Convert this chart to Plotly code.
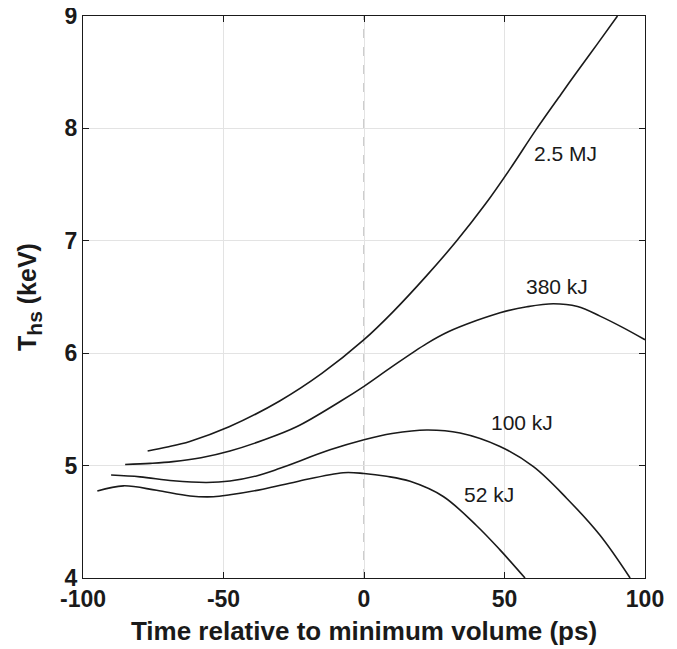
import plotly.graph_objects as go

# ---- data ----
x_25MJ = [-77, -70, -62, -48, -30, -15, 0, 10.4, 22.3, 33, 43, 52, 61, 70, 75.7, 83, 90.2]
y_25MJ = [5.13, 5.165, 5.215, 5.345, 5.575, 5.82, 6.12, 6.37, 6.69, 7.0, 7.32, 7.64, 7.98, 8.3, 8.5, 8.75, 9.0]

x_380kJ = [-85, -76, -68, -58, -47.7, -36, -24, -8.5, 0, 10, 22.3, 30, 40, 48.4, 58, 67.4, 76, 84, 92, 100]
y_380kJ = [5.01, 5.02, 5.035, 5.07, 5.13, 5.225, 5.345, 5.57, 5.705, 5.88, 6.085, 6.19, 6.29, 6.36, 6.413, 6.44, 6.415, 6.33, 6.23, 6.12]

x_100kJ = [-90, -79.7, -67.9, -56, -47.7, -38, -29.9, -12.1, 0, 10, 22.3, 34.2, 48.4, 60.3, 72.1, 84, 94.7]
y_100kJ = [4.916, 4.90, 4.865, 4.85, 4.863, 4.91, 4.976, 5.14, 5.23, 5.285, 5.317, 5.29, 5.17, 4.99, 4.71, 4.38, 4.0]

x_52kJ = [-94.9, -85.6, -73.8, -61.9, -53.6, -47.7, -36, -24, -7.4, 0, 8, 16.4, 28.2, 40.1, 48.4, 57.3]
y_52kJ = [4.774, 4.82, 4.78, 4.73, 4.723, 4.74, 4.79, 4.857, 4.937, 4.93, 4.905, 4.86, 4.725, 4.465, 4.25, 4.0]

labels = ["2.5 MJ", "380 kJ", "100 kJ", "52 kJ"]
label_x = [71.8, 68.6, 56.2, 44.5]
label_y = [7.78, 6.59, 5.38, 4.74]

x_ticks = [-100, -50, 0, 50, 100]
y_ticks = [4, 5, 6, 7, 8, 9]
ref_x = 0

series = [(x_25MJ, y_25MJ), (x_380kJ, y_380kJ), (x_100kJ, y_100kJ), (x_52kJ, y_52kJ)]

FONT = "Liberation Sans, Arial, Helvetica, sans-serif"
INK = "#1a1a1a"

fig = go.Figure()
for (xs, ys), name in zip(series, labels):
    fig.add_trace(go.Scatter(x=xs, y=ys, mode="lines", name=name,
                             line=dict(color=INK, width=1.6, shape="spline", smoothing=1.0),
                             showlegend=False, hoverinfo="skip"))

fig.add_vline(x=ref_x, line=dict(color="#9a9a9a", width=1, dash="dash"), layer="below")

for t, lx, ly in zip(labels, label_x, label_y):
    fig.add_annotation(x=lx, y=ly, text=t, showarrow=False,
                       font=dict(family=FONT, size=21, color=INK))

axis_common = dict(
    showgrid=True, gridcolor="#e3e3e3", gridwidth=1,
    showline=True, linecolor=INK, linewidth=1.2, mirror="ticks",
    ticks="inside", ticklen=6, tickwidth=1, tickcolor=INK,
    zeroline=False, ticklabeloverflow="allow",
    tickfont=dict(family=FONT, size=23, color=INK, weight="bold"),
)

fig.update_xaxes(range=[-100, 100], tickvals=x_ticks, ticktext=[str(v) for v in x_ticks],
                 title=dict(text="<b>Time relative to minimum volume (ps)</b>",
                            font=dict(family=FONT, size=26, color=INK), standoff=11),
                 **axis_common)
fig.update_yaxes(range=[4, 9], tickvals=y_ticks, ticktext=[str(v) for v in y_ticks],
                 title=dict(text="<b>T<sub><span style='font-size:21px'>hs</span></sub> (keV)</b>",
                            font=dict(family=FONT, size=25, color=INK), standoff=20),
                 **axis_common)

fig.update_layout(
    width=677, height=649,
    margin=dict(l=75, r=40, t=8, b=79, autoexpand=False),
    plot_bgcolor="white", paper_bgcolor="white",
    font=dict(family=FONT),
)

fig.write_html("out.html")
